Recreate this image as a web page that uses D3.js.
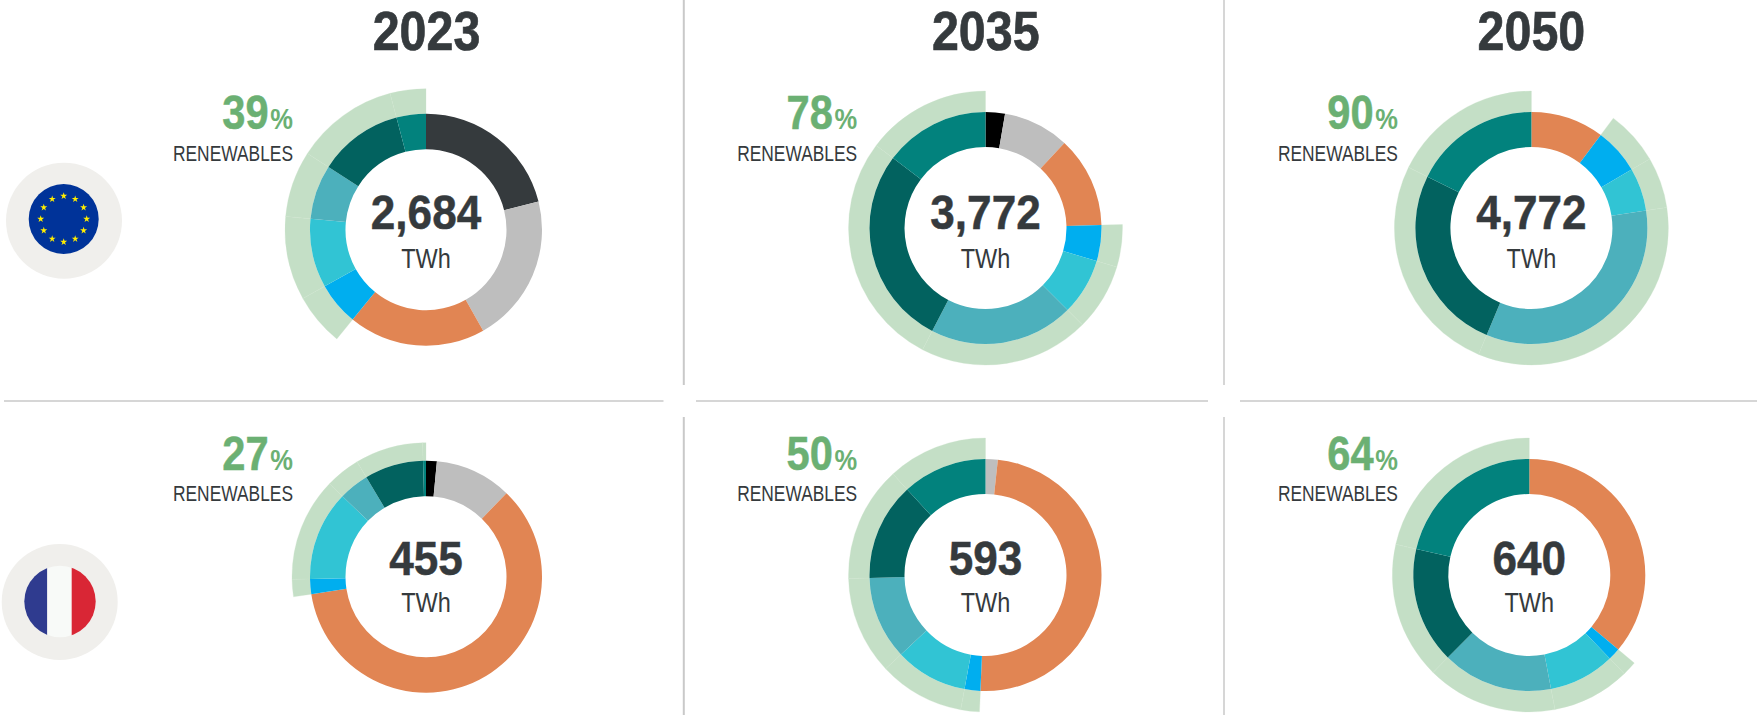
<!DOCTYPE html>
<html><head><meta charset="utf-8">
<script src="https://cdn.jsdelivr.net/npm/d3@7"></script>
<style>html,body{margin:0;padding:0;background:#fff}svg{display:block}text{font-family:"Liberation Sans",Arial,sans-serif}</style>
</head><body><svg id="c" width="1757" height="721"></svg>
<script>
const years = ["2023","2035","2050"];
const categories = ["coal","oil","gas","nuclear","hydro","bio","windOn","windOff","solar"];
const renewableCategories = ["hydro","bio","windOn","windOff","solar"];
const colors = ["#353A3D","#000000","#BEBEBE","#E18553","#00AEEF","#31C4D4","#4CB0BC","#02625F","#02827D"];
// shares of generation, %, clockwise from 12 o'clock
const eu2023 = [21.1,0,20.7,19.1,6.0,9.6,7.6,11.8,4.1];
const eu2035 = [0,2.7,9.2,12.7,5.0,7.9,20.1,27.7,14.7];
const eu2050 = [0,0,0,10.2,6.4,6.0,33.7,26.0,17.7];
const fr2023 = [0,1.5,10.7,60.4,2.1,12.5,4.2,8.2,0.4];
const fr2035 = [0,0,1.7,49.0,2.2,10.1,11.6,13.6,11.8];
const fr2050 = [0,0,0,36.1,1.7,9.2,15.4,16.2,21.4];
const totals = ["2,684","3,772","4,772","455","593","640"];
const renewableShares = ["39","78","90","27","50","64"];
const unit = "TWh", renewLabel = "RENEWABLES", pct = "%";
const starCount = 12;

const series = [eu2023,eu2035,eu2050,fr2023,fr2035,fr2050];
// layout, separate from data
const layout = [
 {cx:426,  cy:229.7,r0:80.5,r1:116,r2:141, lx:293,  yVal:228.5,yUnit:267.7,yPct:129,yRen:160.7},
 {cx:985.5,cy:228,  r0:81,  r1:116,r2:137, lx:857.2,yVal:229,  yUnit:267.7,yPct:129,yRen:160.7},
 {cx:1531.4,cy:228, r0:81,  r1:116,r2:137, lx:1397.9,yVal:229, yUnit:267.7,yPct:129,yRen:160.7},
 {cx:426,  cy:576.7,r0:80.5,r1:116,r2:134, lx:293,  yVal:575.2,yUnit:612.3,yPct:470,yRen:500.7},
 {cx:985.5,cy:575,  r0:81,  r1:116,r2:137, lx:857.2,yVal:575.2,yUnit:612.3,yPct:470,yRen:500.7},
 {cx:1529.3,cy:575, r0:81,  r1:116,r2:137, lx:1397.9,yVal:575.2,yUnit:612.3,yPct:470,yRen:500.7}
];
const titleX = [426.5,985.8,1531.4];
const DARK="#353A3D", GREEN="#6BB073", RING="#C4DFC6", RULE="#C9C9C9";

const svg = d3.select("#c");
function label(x,y,sx,anchor){
  return svg.append("text").attr("transform",`translate(${x},${y}) scale(${sx},1)`).attr("text-anchor",anchor);
}
// rules
const rules = svg.append("g").attr("stroke",RULE);
[[683.8,2],[1224,1.5]].forEach(([x,w])=>{
  [[0,385],[417,715]].forEach(([a,b])=>rules.append("line").attr("x1",x).attr("x2",x).attr("y1",a).attr("y2",b).attr("stroke-width",w));
});
[[4,663.5],[696,1208],[1240,1757]].forEach(([a,b])=>rules.append("line").attr("x1",a).attr("x2",b).attr("y1",401).attr("y2",401).attr("stroke-width",1.5));

// titles
years.forEach((d,i)=>{
  label(titleX[i],49.5,0.865,"middle").attr("font-size",56).attr("font-weight",700).attr("fill",DARK)
    .attr("stroke",DARK).attr("stroke-width",0.7).text(d);
});

const pie = d3.pie().sort(null).value(d=>d);
series.forEach((vals,i)=>{
  const L = layout[i];
  const g = svg.append("g").attr("transform",`translate(${L.cx},${L.cy})`);
  const arcs = pie(vals);
  const inner = d3.arc().innerRadius(L.r0).outerRadius(L.r1);
  const outer = d3.arc().innerRadius(L.r1).outerRadius(L.r2);
  g.append("g").selectAll("path")
    .data(arcs.filter((d,k)=>renewableCategories.includes(categories[k]) && d.value>0))
    .join("path").attr("d",outer).attr("fill",RING).attr("stroke","#CBE3CC").attr("stroke-width",0.3);
  g.append("g").selectAll("path").data(arcs.filter(d=>d.value>0))
    .join("path").attr("d",inner).attr("fill",d=>colors[d.index]);
  label(L.cx,L.yVal,0.9,"middle").attr("font-size",49).attr("font-weight",700).attr("fill",DARK)
    .attr("stroke",DARK).attr("stroke-width",0.5).text(totals[i]);
  label(L.cx,L.yUnit,0.84,"middle").attr("font-size",28).attr("fill",DARK).text(unit);
  const t = label(L.lx,L.yPct,0.85,"end").attr("font-weight",700).attr("fill",GREEN);
  t.append("tspan").attr("font-size",49).attr("stroke",GREEN).attr("stroke-width",0.5).text(renewableShares[i]);
  t.append("tspan").attr("font-size",30).attr("dx",2).text(pct);
  label(L.lx,L.yRen,0.79,"end").attr("font-size",22).attr("fill",DARK).text(renewLabel);
});

// flags
const defs = svg.append("defs");
defs.append("clipPath").attr("id","fr").append("circle").attr("cx",60).attr("cy",601.5).attr("r",35.7);
svg.append("circle").attr("cx",64).attr("cy",220.7).attr("r",58).attr("fill","#F0EFEC");
svg.append("circle").attr("cx",63.7).attr("cy",219).attr("r",35).attr("fill","#003399");
const star = d3.symbol().type(d3.symbolStar).size(15);
d3.range(starCount).forEach(k=>{
  const a = k/starCount*2*Math.PI;
  svg.append("path").attr("d",star).attr("fill","#FFED00")
    .attr("transform",`translate(${63.7+23*Math.sin(a)},${219-23*Math.cos(a)})`);
});
svg.append("circle").attr("cx",59.7).attr("cy",602).attr("r",58).attr("fill","#F0EFEC");
const fr = svg.append("g").attr("clip-path","url(#fr)");
[[24,47.3,"#2F3B8F"],[47.3,71.7,"#F8FAF8"],[71.7,96,"#D92635"]].forEach(([a,b,c])=>
  fr.append("rect").attr("x",a).attr("width",b-a).attr("y",565).attr("height",73).attr("fill",c));
</script></body></html>
